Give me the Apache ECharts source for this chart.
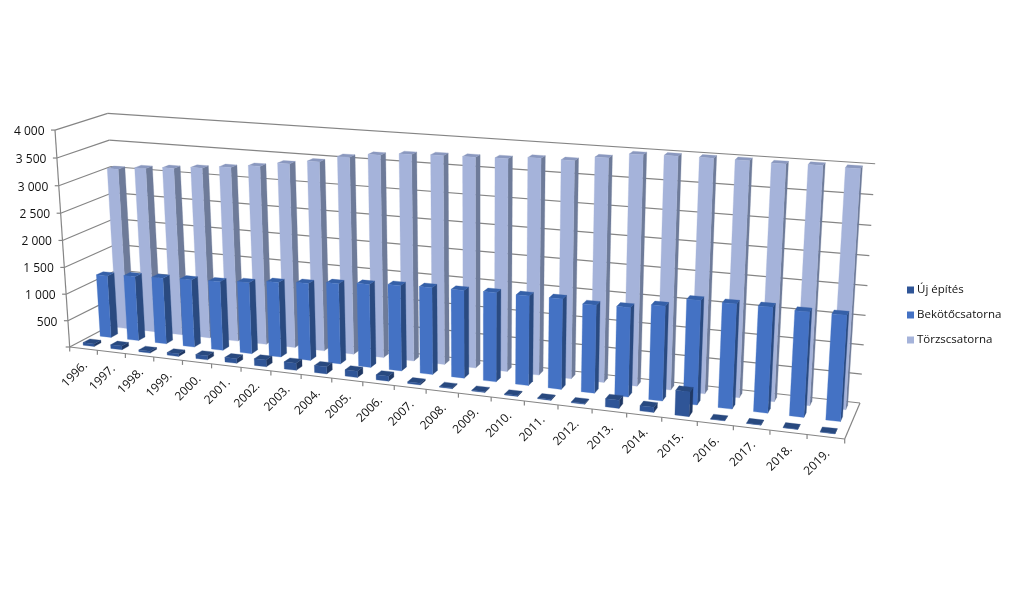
<!DOCTYPE html>
<html><head><meta charset="utf-8"><style>html,body{margin:0;background:#fff}#c{width:1017px;height:612px}</style>
<script src="https://cdn.jsdelivr.net/npm/echarts@6/dist/echarts.min.js"></script></head><body><div id="c"></div>
<script>
const years=['1996.','1997.','1998.','1999.','2000.','2001.','2002.','2003.','2004.','2005.','2006.','2007.','2008.','2009.','2010.','2011.','2012.','2013.','2014.','2015.','2016.','2017.','2018.','2019.'];
const ujEpites=[50,70,35,50,75,85,125,130,130,115,90,30,15,15,15,15,15,140,90,420,5,5,5,5];
const bekoto=[1180,1220,1243,1264,1284,1323,1379,1415,1467,1507,1541,1558,1563,1579,1579,1583,1533,1549,1631,1782,1780,1784,1763,1767];
const torzs=[3056,3110,3153,3197,3250,3310,3395,3470,3590,3665,3715,3735,3745,3760,3805,3805,3890,3980,3995,4000,4000,3985,4000,3990];
const valueTicks=[0,500,1000,1500,2000,2500,3000,3500,4000];
const valueLabels=['','500','1 000','1 500','2 000','2 500','3 000','3 500','4 000'];

// camera of the tilted 3D box: floor corners plus the vanishing point of vertical edges
const floorQuad=[[69.7,347],[844.7,439],[860,403],[120,320.5]];
const vanish=[480,6400], lambda=-0.0346;
function camera(q){
  const [p0,p1,p2,p3]=q;
  const dx1=p1[0]-p2[0],dy1=p1[1]-p2[1],dx2=p3[0]-p2[0],dy2=p3[1]-p2[1];
  const sx=p0[0]-p1[0]+p2[0]-p3[0],sy=p0[1]-p1[1]+p2[1]-p3[1];
  const d=dx1*dy2-dy1*dx2;
  const g=(sx*dy2-sy*dx2)/d,h=(dx1*sy-dy1*sx)/d;
  const a=p1[0]-p0[0]+g*p1[0],b=p3[0]-p0[0]+h*p3[0],c=p0[0];
  const e=p1[1]-p0[1]+g*p1[1],f=p3[1]-p0[1]+h*p3[1],k=p0[1];
  return (u,v,t)=>{const w=g*u+h*v+1+lambda*t;
    return [(a*u+b*v+c+lambda*vanish[0]*t)/w,(e*u+f*v+k+lambda*vanish[1]*t)/w];};
}
const proj=camera(floorQuad);
function norm(api,params,cat,val){
  const p=api.coord([cat,val]),c=params.coordSys;
  return [(p[0]-c.x)/c.width,(c.y+c.height-p[1])/c.height];
}
const BAR=0.4/24/2, DEPTH=0.0667;
function barSeries(name,data,row,colors,z){
  return {name,type:'custom',coordinateSystem:'cartesian2d',data:data.map((v,i)=>[i,v]),encode:{x:0,y:1},z,clip:false,silent:true,
    itemStyle:{color:colors[0]},
    renderItem(params,api){
      const [uc,t]=norm(api,params,api.value(0),api.value(1));
      const v0=row-DEPTH,v1=row+DEPTH,u0=uc-BAR,u1=uc+BAR;
      const poly=(pts,c)=>({type:'polygon',shape:{points:pts},style:{fill:c,stroke:c,lineWidth:0.3}});
      return {type:'group',children:[
        poly([proj(u1,v0,0),proj(u1,v1,0),proj(u1,v1,t),proj(u1,v0,t)],colors[1]),
        poly([proj(u0,v0,t),proj(u1,v0,t),proj(u1,v1,t),proj(u0,v1,t)],colors[2]),
        poly([proj(u0,v0,0),proj(u1,v0,0),proj(u1,v0,t),proj(u0,v0,t)],colors[0])
      ]};
    }};
}
const line=(a,b)=>({type:'line',shape:{x1:a[0],y1:a[1],x2:b[0],y2:b[1]},style:{stroke:'#858585',lineWidth:1.2}});
const FONT='12px "Open Sans"';
const option={
  animation:false,backgroundColor:'#fff',
  grid:{left:0,right:0,top:0,bottom:0},
  xAxis:{type:'category',data:years,show:false},
  yAxis:{type:'value',min:0,max:4000,interval:500,show:false},
  legend:{orient:'vertical',left:902,top:279,itemWidth:7,itemHeight:7,itemGap:13,icon:'rect',selectedMode:false,
    textStyle:{fontFamily:'Open Sans',fontSize:11.5,color:'#111',padding:[0,0,0,-2]},
    data:['Új építés','Bekötőcsatorna','Törzscsatorna']},
  series:[
    {type:'custom',coordinateSystem:'cartesian2d',data:valueTicks.map((v,i)=>[0,v,i]),encode:{x:0,y:1},z:1,clip:false,silent:true,
     renderItem(params,api){
       const t=norm(api,params,0,api.value(1))[1];
       const a=proj(0,0,t),b=proj(0,1,t),c=proj(1,1,t);
       return {type:'group',children:[line(a,b),line(b,c),line(a,[a[0]-4,a[1]]),
         {type:'text',x:a[0]-10.5,y:a[1]+1.5,style:{text:valueLabels[api.value(2)],align:'right',verticalAlign:'middle',font:FONT,fill:'#111'}}]};
     }},
    {type:'custom',coordinateSystem:'cartesian2d',data:[[0,0]],encode:{x:0,y:1},z:1,clip:false,silent:true,
     renderItem(){
       return {type:'group',children:[line(proj(0,0,0),proj(0,0,1)),line(proj(0,0,0),proj(1,0,0)),line(proj(1,0,0),proj(1,1,0))]};
     }},
    {type:'custom',coordinateSystem:'cartesian2d',data:years.map((y,i)=>[i,0]),encode:{x:0,y:1},z:1,clip:false,silent:true,
     renderItem(params,api){
       const i=api.value(0),uc=norm(api,params,i,0)[0],hw=0.5/24;
       const children=[];
       const p=proj(uc-hw,0,0);
       children.push(line(p,[p[0],p[1]+4.5]));
       if(i===years.length-1){const q=proj(uc+hw,0,0);children.push(line(q,[q[0],q[1]+4.5]));}
       const m=proj(uc,0,0);
       children.push({type:'text',x:m[0]+2,y:m[1]+15,rotation:Math.PI/4,style:{text:years[i],align:'right',verticalAlign:'middle',font:FONT,fill:'#111'}});
       return {type:'group',children};
     }},
    barSeries('Törzscsatorna',torzs,5/6,['#A5B3DA','#6E7B99','#8A98BF'],2),
    barSeries('Bekötőcsatorna',bekoto,1/2,['#4472C4','#2A4A80','#3560A8'],3),
    barSeries('Új építés',ujEpites,1/6,['#2F5597','#1F3864','#28497F'],4)
  ]
};
echarts.init(document.getElementById('c'),null,{renderer:'canvas'}).setOption(option);
</script></body></html>
